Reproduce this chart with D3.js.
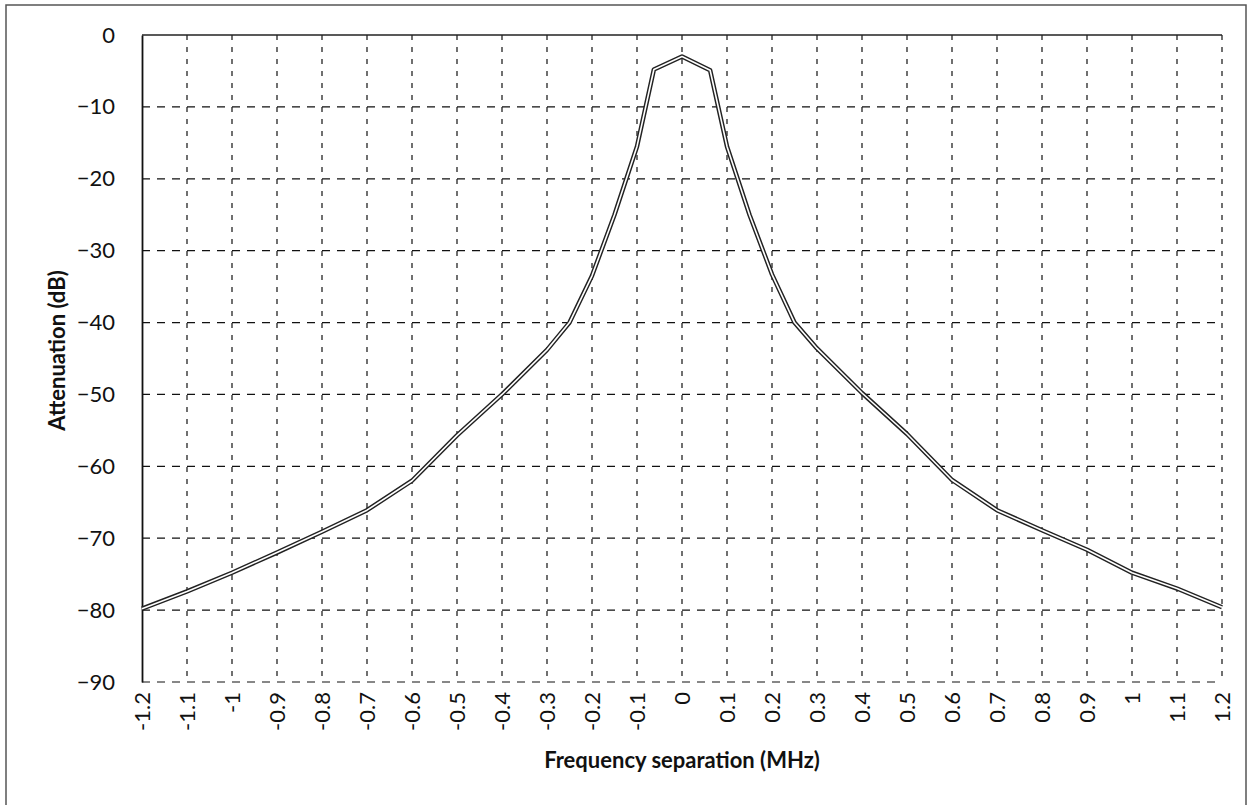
<!DOCTYPE html>
<html><head><meta charset="utf-8">
<script src="https://cdn.jsdelivr.net/npm/d3@7"></script>
<style>body{margin:0;background:#fff}svg{display:block}</style>
</head><body>
<svg id="c" width="1249" height="805"></svg>
<script>
// Data
const freq = [-1.2,-1.1,-1.0,-0.9,-0.8,-0.7,-0.6,-0.5,-0.4,-0.3,-0.25,-0.2,-0.15,-0.1,-0.0625,0,0.0625,0.1,0.15,0.2,0.25,0.3,0.4,0.5,0.6,0.7,0.8,0.9,1.0,1.1,1.2];
const atten = [-79.8,-77.4,-74.8,-72.0,-69.1,-66.1,-62.0,-55.7,-50.0,-43.8,-40.0,-33.5,-25.0,-15.5,-4.8,-3.0,-4.9,-15.5,-25.0,-33.3,-40.0,-43.6,-49.8,-55.5,-61.9,-66.1,-68.9,-71.6,-74.8,-77.0,-79.6];
const xTicks = [-1.2,-1.1,-1,-0.9,-0.8,-0.7,-0.6,-0.5,-0.4,-0.3,-0.2,-0.1,0,0.1,0.2,0.3,0.4,0.5,0.6,0.7,0.8,0.9,1,1.1,1.2];
const yTicks = [0,-10,-20,-30,-40,-50,-60,-70,-80,-90];
const xTitle = "Frequency separation (MHz)";
const yTitle = "Attenuation (dB)";

const svg = d3.select("#c");
const L = 142, R = 1222, T = 35, B = 682;
const x = d3.scaleLinear().domain([-1.2,1.2]).range([L,R]);
const y = d3.scaleLinear().domain([-90,0]).range([B,T]);
const font = "Lato, 'Open Sans', sans-serif";

// outer border
svg.append("rect").attr("x",6).attr("y",5).attr("width",1240).attr("height",810)
  .attr("fill","none").attr("stroke","#555").attr("stroke-width",1.5);

// gridlines
const g = svg.append("g");
g.selectAll("line.v").data(xTicks.filter(d=>d!==-1.2)).join("line")
  .attr("x1",d=>x(d)).attr("x2",d=>x(d)).attr("y1",T).attr("y2",B)
  .attr("stroke","#111").attr("stroke-width",1.2).attr("stroke-dasharray","5,7");
g.selectAll("line.h").data(yTicks.filter(d=>d!==0)).join("line")
  .attr("x1",L).attr("x2",R).attr("y1",d=>y(d)).attr("y2",d=>y(d))
  .attr("stroke","#111").attr("stroke-width",1.2).attr("stroke-dasharray","8,7");
// top solid line
svg.append("line").attr("x1",L).attr("x2",R).attr("y1",y(0)).attr("y2",y(0))
  .attr("stroke","#222").attr("stroke-width",1.5);

// y axis
const yAxis = d3.axisLeft(y).tickValues(yTicks).tickSize(0).tickPadding(27).tickFormat(d3.format("d"));
const ya = svg.append("g").attr("transform",`translate(${L},0)`).call(yAxis);
ya.select(".domain").attr("stroke","#111").attr("stroke-width",1.8);
ya.selectAll("text").attr("font-family",font).attr("font-size",22).attr("fill","#111");

// x axis labels
const xAxis = d3.axisBottom(x).tickValues(xTicks).tickSize(0).tickPadding(0).tickFormat(d=>String(d));
const xa = svg.append("g").attr("transform",`translate(0,${B})`).call(xAxis);
xa.select(".domain").remove();
xa.selectAll("text").attr("font-family",font).attr("font-size",22).attr("fill","#111")
  .attr("transform","rotate(-90)").attr("text-anchor","end").attr("x",-10).attr("y",0).attr("dy","0.35em");

// line (double stroke)
const line = d3.line().x((d,i)=>x(freq[i])).y(d=>y(d));
svg.append("path").datum(atten).attr("d",line).attr("fill","none")
  .attr("stroke","#222").attr("stroke-width",4.5).attr("stroke-linejoin","round");
svg.append("path").datum(atten).attr("d",line).attr("fill","none")
  .attr("stroke","#fff").attr("stroke-width",1.6).attr("stroke-linejoin","round");

// titles
svg.append("text").attr("x",(L+R)/2).attr("y",768).attr("text-anchor","middle")
  .attr("font-family",font).attr("font-weight","bold").attr("font-size",22).attr("fill","#111").text(xTitle);
svg.append("text").attr("transform",`translate(65,${(T+B)/2-8}) rotate(-90)`).attr("text-anchor","middle")
  .attr("font-family",font).attr("font-weight","bold").attr("font-size",22).attr("fill","#111").text(yTitle);
</script>
</body></html>
